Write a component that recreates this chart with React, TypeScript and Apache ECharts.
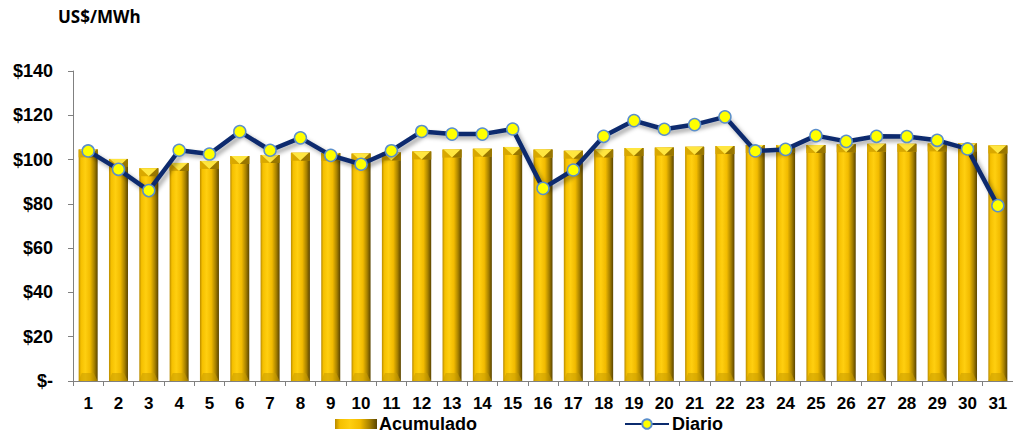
import React, { useEffect, useRef } from "react";
import * as echarts from "echarts";

const days = ["1","2","3","4","5","6","7","8","9","10","11","12","13","14","15","16","17","18","19","20","21","22","23","24","25","26","27","28","29","30","31"];
const acumulado = [104.6, 100.3, 96.1, 98.5, 99.4, 101.6, 102.1, 103.1, 103.0, 102.7, 103.2, 103.7, 104.5, 104.9, 105.7, 104.5, 104.0, 104.6, 105.2, 105.4, 105.8, 106.1, 106.6, 106.6, 106.6, 106.9, 107.1, 107.1, 107.3, 107.3, 106.4];
const diario = [103.9, 95.6, 86.0, 104.2, 102.5, 112.6, 104.2, 109.8, 101.9, 97.9, 104.0, 112.7, 111.5, 111.5, 113.8, 87.0, 95.3, 110.5, 117.6, 113.7, 115.8, 119.3, 103.9, 104.6, 110.8, 108.2, 110.5, 110.4, 108.7, 104.8, 79.2];
const yTicks = { min: 0, max: 140, interval: 20 };
const unitTitle = "US$/MWh";

const goldGradient = new echarts.graphic.LinearGradient(0, 0, 1, 0, [
  { offset: 0, color: "#B88A00" },
  { offset: 0.12, color: "#F5C000" },
  { offset: 0.35, color: "#FFCF10" },
  { offset: 0.6, color: "#F2BB00" },
  { offset: 0.82, color: "#A88200" },
  { offset: 1, color: "#5A4400" },
]);

export default function App() {
  const ref = useRef<HTMLDivElement>(null);
  useEffect(() => {
    if (!ref.current) return;
    const chart = echarts.init(ref.current, null, { renderer: "svg" });
    const BW = 19;
    const option: any = {
      animation: false,
      backgroundColor: "#ffffff",
      title: {
        text: unitTitle,
        left: 58,
        top: 8,
        padding: 0,
        textStyle: { fontFamily: "Open Sans", fontWeight: "bold", fontSize: 17, color: "#000" },
      },
      legend: [
        {
          left: 335,
          top: 415,
          padding: 0,
          itemWidth: 42,
          itemHeight: 10,
          data: [{ name: "Acumulado", icon: "rect", itemStyle: { color: goldGradient } }],
          textStyle: { fontFamily: "Liberation Sans", fontWeight: "bold", fontSize: 18, color: "#000", padding: [0, 0, 0, -3] },
        },
        {
          left: 624,
          top: 415,
          padding: 0,
          itemWidth: 44,
          itemHeight: 12,
          data: [{ name: "Diario" }],
          textStyle: { fontFamily: "Liberation Sans", fontWeight: "bold", fontSize: 18, color: "#000", padding: [0, 0, 0, -2] },
        },
      ],
      grid: { left: 73, top: 71, width: 946, height: 310, containLabel: false },
      xAxis: {
        type: "category",
        data: days,
        boundaryGap: true,
        axisLine: { lineStyle: { color: "#808080", width: 1 } },
        axisTick: { show: true, length: 5, lineStyle: { color: "#808080" } },
        axisLabel: { margin: 14, fontFamily: "Liberation Sans", fontWeight: "bold", fontSize: 17, color: "#000" },
      },
      yAxis: {
        type: "value",
        min: yTicks.min,
        max: yTicks.max,
        interval: yTicks.interval,
        splitLine: { show: false },
        axisLine: { show: true, lineStyle: { color: "#808080", width: 1 } },
        axisTick: { show: true, length: 5, lineStyle: { color: "#808080" } },
        axisLabel: {
          margin: 20,
          fontFamily: "Liberation Sans",
          fontWeight: "bold",
          fontSize: 18,
          color: "#000",
          formatter: (v: number) => (v === 0 ? "$-" : "$" + v),
        },
      },
      series: [
        {
          name: "Acumulado",
          type: "bar",
          data: acumulado,
          barWidth: BW,
          itemStyle: { color: goldGradient },
          z: 1,
        },
        {
          name: "bevel",
          type: "custom",
          data: acumulado.map((v, i) => [i, v]),
          z: 2,
          silent: true,
          renderItem: (params: any, api: any) => {
            const top = api.coord([api.value(0), api.value(1)]);
            const base = api.coord([api.value(0), 0]);
            const x0 = top[0] - BW / 2;
            const x1 = top[0] + BW / 2;
            const y0 = top[1];
            const yb = base[1];
            const d = 8;
            return {
              type: "group",
              children: [
                {
                  type: "polygon",
                  shape: { points: [[x0, y0], [x1, y0], [x1, y0 + d], [x0, y0 + d]] },
                  style: { fill: "#D9A800" },
                },
                {
                  type: "polygon",
                  shape: { points: [[x0 + 1, y0], [x1 - 1, y0], [top[0], y0 + d]] },
                  style: { fill: "#FFE640" },
                },
                {
                  type: "polygon",
                  shape: { points: [[x1 - 1, y0], [top[0], y0 + d], [x1, y0 + d], [x1, y0]] },
                  style: { fill: "#7E6200", opacity: 0.7 },
                },
                {
                  type: "polygon",
                  shape: { points: [[x0 + 3, yb - d], [x1 - 4, yb - d], [x1, yb], [x0, yb]] },
                  style: { fill: "#C89C00", opacity: 0.55 },
                },
              ],
            };
          },
        },
        {
          name: "Diario",
          type: "line",
          data: diario,
          z: 5,
          symbol: "circle",
          symbolSize: 12,
          lineStyle: {
            color: "#0B2B6E",
            width: 4.5,
            shadowColor: "rgba(0,0,0,0.35)",
            shadowBlur: 4,
            shadowOffsetX: 3,
            shadowOffsetY: 3,
          },
          itemStyle: { color: "#FFFF00", borderColor: "#5B8FCB", borderWidth: 1.5 },
        },
      ],
    };
    chart.setOption(option);
    return () => chart.dispose();
  }, []);
  return (
    <div
      ref={ref}
      style={{ position: "fixed", left: 0, top: 0, width: 1013, height: 435, background: "#fff" }}
    />
  );
}
